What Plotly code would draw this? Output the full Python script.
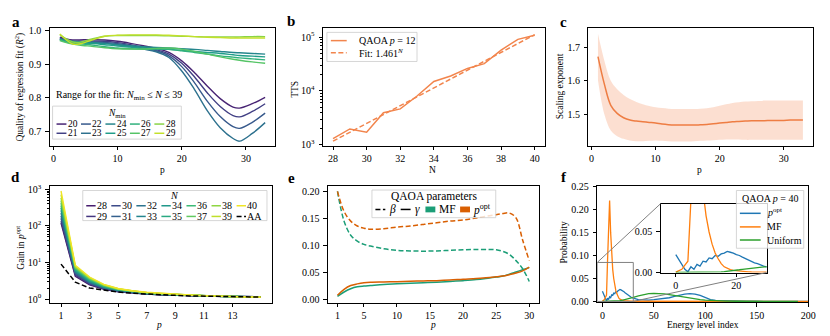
import plotly.graph_objects as go
from plotly.colors import sample_colorscale

W, H = 830, 336
SERIF = "'Liberation Serif', 'Times New Roman', Times, 'DejaVu Serif', serif"
FS = 9.5
TICK_FS = 10

# ---- a: quality of regression fit vs p, one curve per N_min
p_a = [1, 2, 3, 4, 6, 8, 10, 12, 14, 16, 18, 20, 22, 24, 26, 28, 29, 31, 33]
nmin_a = [20, 21, 22, 23, 24, 25, 26, 27, 28, 29]
r2_a = [
    [0.980, 0.975, 0.972, 0.972, 0.973, 0.972, 0.968, 0.962, 0.955, 0.947, 0.935, 0.910, 0.875, 0.835, 0.798, 0.773, 0.770, 0.783, 0.802],
    [0.978, 0.972, 0.968, 0.968, 0.969, 0.968, 0.964, 0.958, 0.951, 0.943, 0.930, 0.903, 0.862, 0.815, 0.775, 0.748, 0.744, 0.760, 0.783],
    [0.976, 0.970, 0.965, 0.965, 0.966, 0.965, 0.961, 0.955, 0.948, 0.940, 0.925, 0.893, 0.845, 0.790, 0.745, 0.715, 0.710, 0.728, 0.755],
    [0.974, 0.968, 0.962, 0.962, 0.963, 0.962, 0.958, 0.952, 0.945, 0.937, 0.920, 0.880, 0.825, 0.762, 0.712, 0.680, 0.672, 0.695, 0.727],
    [0.975, 0.970, 0.968, 0.967, 0.965, 0.962, 0.958, 0.955, 0.952, 0.950, 0.948, 0.946, 0.944, 0.941, 0.938, 0.935, 0.934, 0.932, 0.930],
    [0.973, 0.968, 0.966, 0.964, 0.962, 0.958, 0.954, 0.951, 0.948, 0.946, 0.944, 0.941, 0.938, 0.935, 0.932, 0.928, 0.926, 0.924, 0.922],
    [0.972, 0.966, 0.963, 0.961, 0.957, 0.952, 0.948, 0.946, 0.945, 0.945, 0.944, 0.940, 0.935, 0.930, 0.925, 0.921, 0.919, 0.916, 0.913],
    [0.970, 0.964, 0.960, 0.957, 0.953, 0.949, 0.946, 0.945, 0.945, 0.947, 0.948, 0.945, 0.938, 0.930, 0.922, 0.915, 0.912, 0.907, 0.903],
    [0.988, 0.975, 0.966, 0.965, 0.975, 0.983, 0.985, 0.985, 0.985, 0.985, 0.984, 0.983, 0.982, 0.981, 0.981, 0.981, 0.981, 0.982, 0.982],
    [0.990, 0.972, 0.960, 0.960, 0.972, 0.983, 0.986, 0.987, 0.987, 0.987, 0.986, 0.984, 0.982, 0.980, 0.979, 0.978, 0.978, 0.978, 0.978],
]

# ---- b: time to solution vs N
n_b = [28, 29, 30, 31, 32, 33, 34, 35, 36, 37, 38, 39, 40]
tts_b = [1300, 1970, 1710, 3940, 4650, 8050, 15000, 19000, 26200, 32200, 57500, 90800, 108600]
fit_n = [28, 40]
fit_tts = [1170, 111000]

# ---- c: scaling exponent vs p
p_c = list(range(1, 34))
exp_c = [1.672, 1.590, 1.527, 1.503, 1.490, 1.483, 1.480, 1.478, 1.476, 1.474, 1.471, 1.469, 1.468,
         1.468, 1.468, 1.468, 1.469, 1.470, 1.472, 1.474, 1.476, 1.478, 1.479, 1.480, 1.481, 1.481,
         1.481, 1.482, 1.482, 1.482, 1.483, 1.483, 1.483]
exp_hi = [1.740, 1.660, 1.600, 1.575, 1.558, 1.546, 1.537, 1.530, 1.525, 1.521, 1.519, 1.517, 1.516,
          1.516, 1.516, 1.516, 1.517, 1.518, 1.521, 1.526, 1.530, 1.534, 1.536, 1.538, 1.539, 1.540,
          1.541, 1.541, 1.541, 1.541, 1.541, 1.541, 1.541]
exp_lo = [1.602, 1.500, 1.452, 1.435, 1.427, 1.422, 1.420, 1.420, 1.421, 1.422, 1.421, 1.420, 1.419,
          1.419, 1.419, 1.420, 1.421, 1.422, 1.423, 1.424, 1.425, 1.425, 1.425, 1.424, 1.424, 1.424,
          1.424, 1.424, 1.424, 1.424, 1.424, 1.424, 1.424]

# ---- d: gain in p_opt vs p, one curve per N
p_d = list(range(1, 16))
n_d = [28, 29, 30, 31, 32, 33, 34, 35, 36, 37, 38, 39, 40]
gain_d = [
    [120, 4.2, 2.45, 1.85, 1.58, 1.44, 1.36, 1.30, 1.26, 1.23, 1.20, 1.18, 1.17, 1.16, 1.15],
    [135, 4.5, 2.55, 1.90, 1.61, 1.46, 1.37, 1.31, 1.27, 1.23, 1.20, 1.18, 1.17, 1.16, 1.15],
    [160, 4.8, 2.65, 1.95, 1.64, 1.48, 1.38, 1.32, 1.27, 1.24, 1.21, 1.19, 1.17, 1.16, 1.15],
    [190, 5.1, 2.75, 2.00, 1.67, 1.50, 1.39, 1.33, 1.28, 1.24, 1.21, 1.19, 1.17, 1.16, 1.15],
    [225, 5.4, 2.85, 2.05, 1.70, 1.52, 1.41, 1.34, 1.29, 1.25, 1.22, 1.19, 1.17, 1.16, 1.15],
    [265, 5.7, 2.95, 2.10, 1.73, 1.54, 1.42, 1.35, 1.30, 1.25, 1.22, 1.19, 1.17, 1.16, 1.14],
    [310, 6.0, 3.10, 2.15, 1.76, 1.56, 1.44, 1.36, 1.30, 1.26, 1.22, 1.19, 1.17, 1.15, 1.14],
    [360, 6.3, 3.25, 2.20, 1.79, 1.58, 1.45, 1.37, 1.31, 1.26, 1.22, 1.19, 1.17, 1.15, 1.14],
    [420, 6.7, 3.40, 2.27, 1.82, 1.60, 1.47, 1.38, 1.32, 1.27, 1.23, 1.19, 1.17, 1.15, 1.14],
    [490, 7.1, 3.55, 2.33, 1.85, 1.62, 1.48, 1.39, 1.33, 1.27, 1.23, 1.19, 1.17, 1.15, 1.13],
    [580, 7.5, 3.70, 2.40, 1.88, 1.64, 1.50, 1.40, 1.34, 1.28, 1.23, 1.19, 1.16, 1.14, 1.13],
    [720, 7.9, 3.85, 2.46, 1.91, 1.66, 1.52, 1.42, 1.35, 1.28, 1.23, 1.19, 1.16, 1.14, 1.13],
    [900, 8.4, 4.00, 2.52, 1.95, 1.69, 1.54, 1.44, 1.36, 1.29, 1.24, 1.19, 1.16, 1.14, 1.12],
]
gain_aa = [9.0, 2.9, 2.0, 1.72, 1.55, 1.44, 1.36, 1.30, 1.26, 1.22, 1.19, 1.17, 1.15, 1.14, 1.13]

# ---- e: QAOA parameters vs p
p_e = [1, 2, 3, 4, 5, 6, 8, 10, 12, 14, 16, 18, 20, 22, 24, 25, 26, 27, 28, 29, 30]
beta_opt = [0.200, 0.163, 0.145, 0.136, 0.132, 0.130, 0.131, 0.134, 0.136, 0.139, 0.142, 0.145, 0.147,
            0.151, 0.155, 0.157, 0.159, 0.160, 0.151, 0.110, 0.072]
beta_mf = [0.200, 0.145, 0.119, 0.108, 0.102, 0.099, 0.094, 0.091, 0.090, 0.0895, 0.090, 0.091, 0.092,
           0.0925, 0.0925, 0.092, 0.089, 0.0835, 0.072, 0.057, 0.0335]
gamma_opt = [0.008, 0.019, 0.026, 0.029, 0.031, 0.032, 0.0325, 0.033, 0.034, 0.0345, 0.035, 0.036, 0.0376,
             0.039, 0.041, 0.042, 0.0434, 0.046, 0.049, 0.053, 0.060]
gamma_mf = [0.006, 0.014, 0.020, 0.0235, 0.025, 0.026, 0.028, 0.029, 0.030, 0.031, 0.032, 0.0335, 0.035,
            0.037, 0.040, 0.0415, 0.0434, 0.047, 0.051, 0.055, 0.059]

# ---- f: probability vs energy level index
lvl_f = list(range(0, 31)) + [35, 40, 45, 50, 55, 60, 65, 70, 75, 80, 85, 90, 95, 100, 105, 110,
                              120, 130, 140, 150, 160, 170, 180, 190, 200]
prob_opt = [0.022, 0.016, 0.009, 0.004, 0.001, 0.007, 0.004, 0.010, 0.008, 0.014, 0.013, 0.018, 0.017,
            0.021, 0.020, 0.023, 0.024, 0.026, 0.025, 0.024, 0.022, 0.021, 0.019, 0.017, 0.015, 0.013,
            0.012, 0.011, 0.009, 0.008, 0.007,
            0.004, 0.003, 0.003, 0.004, 0.005, 0.006, 0.008, 0.011, 0.014, 0.016, 0.017, 0.016, 0.013,
            0.008, 0.004, 0.002, 0.001, 0.0007, 0.0004, 0.0003, 0.0001, 0.0001, 0.0, 0.0, 0.0]
prob_mf = [0.0005, 0.002, 0.004, 0.009, 0.014, 0.09, 0.17, 0.22, 0.15, 0.10, 0.07, 0.050, 0.035, 0.024,
           0.017, 0.011, 0.007, 0.005, 0.0035, 0.0025, 0.002, 0.0016, 0.0012, 0.001, 0.0008, 0.0006,
           0.0005, 0.0004, 0.0003, 0.0003, 0.0003,
           0.0002, 0.0001, 0.0, 0.0, 0.0, 0.0, 0.0, 0.0, 0.0, 0.0, 0.0, 0.0, 0.0,
           0.0, 0.0, 0.0, 0.0, 0.0, 0.0, 0.0, 0.0, 0.0, 0.0, 0.0, 0.0]
prob_uni = [0.0, 0.0, 0.0, 0.0, 0.0, 0.0, 0.0, 0.0, 0.0, 0.0, 0.0001, 0.0002, 0.0003, 0.0005, 0.0007,
            0.0009, 0.0012, 0.0015, 0.0019, 0.0024, 0.0029, 0.0034, 0.0040, 0.0046, 0.0052, 0.0058,
            0.0064, 0.0070, 0.0077, 0.0083, 0.0090,
            0.0122, 0.0150, 0.0168, 0.0176, 0.0175, 0.0165, 0.0148, 0.0127, 0.0105, 0.0085, 0.0066,
            0.0050, 0.0037, 0.0027, 0.0020, 0.0010, 0.0005, 0.0003, 0.0001, 0.0001, 0.0, 0.0, 0.0, 0.0]

# panel boxes in pixels: left, right, top, bottom
BOX = {
    "a": (42, 270, 17, 138),
    "b": (318, 542, 17, 138),
    "c": (586, 813, 17, 138),
    "d": (42, 267, 179, 300),
    "e": (323, 536, 179, 300),
    "f": (595, 808, 179, 299),
    "in": (659, 766, 197.5, 268.5),
}
RANGE_F = ([-5, 200], [-0.0015, 0.2525])
RANGE_IN = ([-5, 30], [0, 0.085])
DASH = "5px,2.5px"

fig = go.Figure()
layout = {}
shapes = []
annotations = []


def fx(px):
    return px / W


def fy(py):
    return 1 - py / H


def ax_style(**kw):
    base = dict(showline=True, mirror=True, linecolor="black", linewidth=0.8, ticks="outside",
                ticklen=3.5, tickwidth=0.8, tickcolor="black", showgrid=False, zeroline=False,
                tickfont=dict(family=SERIF, size=TICK_FS, color="black"))
    base.update(kw)
    return base


def axes(i, box, xr, yr, xkw, ykw):
    x0, x1, y0, y1 = BOX[box]
    k = "" if i == 1 else str(i)
    layout[f"xaxis{k}"] = ax_style(domain=[fx(x0), fx(x1)], anchor=f"y{k}", range=xr, **xkw)
    layout[f"yaxis{k}"] = ax_style(domain=[fy(y1), fy(y0)], anchor=f"x{k}", range=yr,
                                   ticklabelstandoff=2, **ykw)


def txt(x, y, s, size=FS, xanchor="left", yanchor="middle", angle=0, bold=False):
    if bold:
        s = f"<b>{s}</b>"
    annotations.append(dict(x=fx(x), y=fy(y), xref="paper", yref="paper", text=s, showarrow=False,
                            xanchor=xanchor, yanchor=yanchor, textangle=angle, borderpad=0,
                            font=dict(family=SERIF, size=size, color="black")))


def seg(x0, y0, x1, y1, color, width=1.5, dash="solid"):
    shapes.append(dict(type="line", xref="paper", yref="paper", x0=fx(x0), y0=fy(y0), x1=fx(x1),
                       y1=fy(y1), line=dict(color=color, width=width, dash=dash), layer="above"))


def rect(x0, y0, x1, y1, fill, line="#cccccc", width=0.8):
    shapes.append(dict(type="rect", xref="paper", yref="paper", x0=fx(x0), y0=fy(y1), x1=fx(x1),
                       y1=fy(y0), fillcolor=fill, line=dict(color=line, width=width), layer="above"))


def minor_log(decades):
    return dict(ticks="outside", ticklen=2, tickwidth=0.6, tickcolor="black",
                tickvals=[m * 10 ** d for d in decades for m in range(2, 10)])


# ---------------- a
cols_a = sample_colorscale("Viridis", [0.1 + 0.09 * i for i in range(len(nmin_a))])
for n, ys, c in zip(nmin_a, r2_a, cols_a):
    fig.add_trace(go.Scatter(x=p_a, y=ys, mode="lines", line=dict(color=c, width=1.4, shape="spline"),
                             xaxis="x", yaxis="y", showlegend=False))
axes(1, "a", [-0.6, 34.6], [0.658, 1.006],
     dict(tickvals=[0, 10, 20, 30]),
     dict(tickvals=[0.7, 0.8, 0.9, 1.0], ticktext=["0.7", "0.8", "0.9", "1.0"]))
txt(47, 86, "Range for the fit: <i>N</i><sub>min</sub> ≤ <i>N</i> ≤ 39", size=10)
rect(45, 97, 175, 131, "rgba(255,255,255,0.8)")
txt(110, 105, "<i>N</i><sub>min</sub>", xanchor="center", size=9.5)
for n, c in zip(nmin_a, cols_a):
    col, row = (n - 20) // 2, (n - 20) % 2
    x0 = 49 + col * 24.7
    y0 = 115.5 + row * 9.5
    seg(x0, y0, x0 + 10, y0, c)
    txt(x0 + 10.5, y0, str(n), size=9.5)
txt(12, 77, "Quality of regression fit (<i>R</i><sup>2</sup>)", xanchor="center", angle=-90)
txt(156, 163, "p", xanchor="center")

# ---------------- b
ORANGE_B = "#f2854d"
fig.add_trace(go.Scatter(x=n_b, y=tts_b, mode="lines", line=dict(color=ORANGE_B, width=1.5),
                         xaxis="x2", yaxis="y2", showlegend=False))
fig.add_trace(go.Scatter(x=fit_n, y=fit_tts, mode="lines", line=dict(color=ORANGE_B, width=1.5, dash=DASH),
                         xaxis="x2", yaxis="y2", showlegend=False))
axes(2, "b", [27.4, 40.6], [2.98, 5.16],
     dict(tickvals=[28, 30, 32, 34, 36, 38, 40]),
     dict(type="log", tickvals=[1e3, 1e4, 1e5],
          ticktext=["10<sup>3</sup>", "10<sup>4</sup>", "10<sup>5</sup>"], minor=minor_log([3, 4])))
rect(322, 21, 413, 51, "rgba(255,255,255,0.8)")
seg(326, 29.5, 342, 29.5, ORANGE_B)
txt(353, 29.5, "QAOA <i>p</i> = 12", size=10)
seg(326, 42, 342, 42, ORANGE_B, dash=DASH)
txt(353, 42, "Fit: 1.461<sup><i>N</i></sup>", size=10)
txt(289, 80, "TTS", xanchor="center", angle=-90)
txt(429, 163, "N", xanchor="center")

# ---------------- c
ORANGE_C = "#ee7d43"
fig.add_trace(go.Scatter(x=p_c, y=exp_hi, mode="lines", line=dict(width=0, shape="spline"),
                         xaxis="x3", yaxis="y3", showlegend=False))
fig.add_trace(go.Scatter(x=p_c, y=exp_lo, mode="lines", line=dict(width=0, shape="spline"),
                         fill="tonexty", fillcolor="rgba(244,140,90,0.28)",
                         xaxis="x3", yaxis="y3", showlegend=False))
fig.add_trace(go.Scatter(x=p_c, y=exp_c, mode="lines", line=dict(color=ORANGE_C, width=1.5, shape="spline"),
                         xaxis="x3", yaxis="y3", showlegend=False))
axes(3, "c", [-0.5, 34.6], [1.406, 1.756],
     dict(tickvals=[0, 10, 20, 30]),
     dict(tickvals=[1.5, 1.6, 1.7], ticktext=["1.5", "1.6", "1.7"]))
txt(557, 77, "Scaling exponent", xanchor="center", angle=-90)
txt(698, 163, "p", xanchor="center")

# ---------------- d
cols_d = sample_colorscale("Viridis", [0.08 + 0.075 * i for i in range(len(n_d))])
for n, ys, c in zip(n_d, gain_d, cols_d):
    fig.add_trace(go.Scatter(x=p_d, y=ys, mode="lines", line=dict(color=c, width=1.4),
                             xaxis="x4", yaxis="y4", showlegend=False))
fig.add_trace(go.Scatter(x=p_d, y=gain_aa, mode="lines", line=dict(color="black", width=1.5, dash=DASH),
                         xaxis="x4", yaxis="y4", showlegend=False))
axes(4, "d", [0.2, 15.8], [-0.11, 3.1],
     dict(tickvals=[1, 3, 5, 7, 9, 11, 13]),
     dict(type="log", tickvals=[1, 10, 100, 1000],
          ticktext=["10<sup>0</sup>", "10<sup>1</sup>", "10<sup>2</sup>", "10<sup>3</sup>"],
          minor=minor_log([0, 1, 2])))
rect(75.5, 184, 261.5, 215, "rgba(255,255,255,0.8)")
txt(168.5, 189.5, "<i>N</i>", xanchor="center", size=10)
for idx, (n, c) in enumerate(list(zip(n_d, cols_d)) + [("AA", "black")]):
    col, row = idx // 2, idx % 2
    x0 = 79 + col * 25.3
    y0 = 199.7 + row * 11
    seg(x0, y0, x0 + 9.5, y0, c, dash=DASH if n == "AA" else "solid")
    txt(x0 + 10, y0, str(n), size=10)
txt(12, 243, "Gain in <i>p</i><sup>opt</sup>", xanchor="center", angle=-90)
txt(152, 323, "<i>p</i>", xanchor="center")

# ---------------- e
TEAL, ORANGE_E = "#1b9e77", "#d95f02"
for ys, c, d in [(beta_mf, TEAL, DASH), (beta_opt, ORANGE_E, DASH),
                 (gamma_mf, TEAL, "solid"), (gamma_opt, ORANGE_E, "solid")]:
    fig.add_trace(go.Scatter(x=p_e, y=ys, mode="lines", line=dict(color=c, width=1.5, dash=d, shape="spline"),
                             xaxis="x5", yaxis="y5", showlegend=False))
axes(5, "e", [-0.45, 31.45], [-0.0065, 0.2106],
     dict(tickvals=[1, 5, 10, 15, 20, 25, 30]),
     dict(tickvals=[0, 0.05, 0.1, 0.15, 0.2], tickformat=".2f"))
rect(367.5, 183.5, 492.5, 212, "rgba(255,255,255,0.8)")
txt(430, 190.5, "QAOA parameters", xanchor="center", size=11.5)
seg(371, 203.5, 381, 203.5, "black", dash=DASH)
txt(384, 203.5, "<i>β</i>", size=11.5)
seg(396.5, 203.5, 406.5, 203.5, "black")
txt(410, 203.5, "<i>γ</i>", size=11.5)
rect(421.5, 200.5, 431.5, 206.5, TEAL, line=TEAL, width=0)
txt(434, 203.5, "MF", size=11.5)
rect(456.5, 200.5, 466.5, 206.5, ORANGE_E, line=ORANGE_E, width=0)
txt(469, 203.5, "<i>p</i><sup>opt</sup>", size=11.5)
txt(429, 323, "<i>p</i>", xanchor="center")

# ---------------- f (main + inset)
BLUE, ORANGE_F, GREEN = "#1f77b4", "#ff7f0e", "#2ca02c"
for xa, ya in [("x6", "y6"), ("x7", "y7")]:
    for ys, c in [(prob_opt, BLUE), (prob_mf, ORANGE_F), (prob_uni, GREEN)]:
        fig.add_trace(go.Scatter(x=lvl_f, y=ys, mode="lines", line=dict(color=c, width=1.3),
                                 xaxis=xa, yaxis=ya, showlegend=False))
axes(6, "f", RANGE_F[0], RANGE_F[1],
     dict(tickvals=[0, 50, 100, 150, 200]),
     dict(tickvals=[0, 0.05, 0.1, 0.15, 0.2, 0.25], tickformat=".2f"))
axes(7, "in", RANGE_IN[0], RANGE_IN[1],
     dict(tickvals=[0, 20]),
     dict(tickvals=[0, 0.05], tickformat=".2f"))


def f_px(x, y):
    x0, x1, y0, y1 = BOX["f"]
    (xa, xb), (ya, yb) = RANGE_F
    return x0 + (x - xa) / (xb - xa) * (x1 - x0), y1 - (y - ya) / (yb - ya) * (y1 - y0)


# inset marker rectangle and connectors
shapes.append(dict(type="rect", xref="x6", yref="y6", x0=RANGE_IN[0][0], x1=RANGE_IN[0][1],
                   y0=RANGE_IN[1][0], y1=RANGE_IN[1][1], line=dict(color="#808080", width=1), layer="above"))
ix0, ix1, iy0, iy1 = BOX["in"]
tlx, tly = f_px(RANGE_IN[0][0], RANGE_IN[1][1])
brx, bry = f_px(RANGE_IN[0][1], RANGE_IN[1][0])
seg(tlx, tly, ix0, iy0, "#808080", width=1)
seg(brx, bry, ix1, iy1, "#808080", width=1)

rect(735.5, 184, 803.5, 243.5, "rgba(255,255,255,0.8)")
txt(769.5, 192.5, "QAOA <i>p</i> = 40", xanchor="center", size=10)
seg(739, 207.5, 760, 207.5, BLUE)
txt(765, 206.5, "<i>p</i><sup>opt</sup>", size=10)
seg(739, 221.5, 760, 221.5, ORANGE_F)
txt(765, 221.5, "MF", size=10)
seg(739, 235, 760, 235, GREEN)
txt(765, 235, "Uniform", size=10)
txt(561, 238, "Probability", xanchor="center", angle=-90)
txt(702, 323, "Energy level index", xanchor="center")

# panel letters
for s, x, y in [("a", 8, 10.5), ("b", 286, 9.5), ("c", 561, 10.5),
                ("d", 8, 170.5), ("e", 286, 171.5), ("f", 561, 170.5)]:
    txt(x, y, s, size=15, xanchor="center", bold=True)

fig.update_layout(
    width=W, height=H,
    margin=dict(l=0, r=0, t=0, b=0),
    paper_bgcolor="white", plot_bgcolor="white",
    font=dict(family=SERIF, size=FS, color="black"),
    shapes=shapes, annotations=annotations,
    showlegend=False,
    **layout,
)

fig.write_html("out.html")
